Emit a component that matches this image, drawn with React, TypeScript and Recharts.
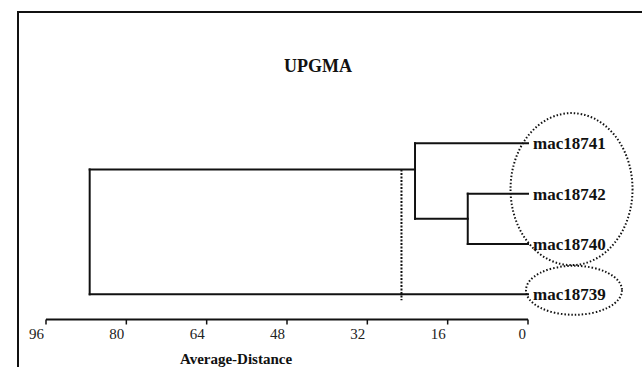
import React from 'react'
import { LineChart, Line, XAxis, YAxis, ReferenceLine, ReferenceDot } from 'recharts'

// leaves, top to bottom
const leafNames = ['mac18741', 'mac18742', 'mac18740', 'mac18739']
const leafRows = [1, 2, 3, 4]

// internal nodes, bottom-up (children are leaf names or earlier node ids)
const nodeIds = ['n1', 'n2', 'n3']
const nodeChildren = [
  ['mac18742', 'mac18740'],
  ['mac18741', 'n1'],
  ['n2', 'mac18739'],
]
const nodeHeights = [12, 22.5, 87.3]
const nodeRows = [2.5, 1.52, 2.76]

// dotted cut line
const cutHeight = 25.2
const cutRows = [1.52, 4.12]

// dotted groupings around the labels
const groupCenters = [
  { x: -8.67, y: 1.91 },
  { x: -9.16, y: 3.92 },
]
const groupRadii = [
  [61, 76],
  [48, 24.5],
]

const xTicks = [0, 16, 32, 48, 64, 80, 96]

type Pt = { x: number; y: number }

function buildSegments(): Pt[][] {
  const pos: Record<string, { h: number; row: number }> = {}
  leafNames.forEach((n, i) => (pos[n] = { h: 0, row: leafRows[i] }))
  const segs: Pt[][] = []
  nodeIds.forEach((id, i) => {
    const h = nodeHeights[i]
    const kids = nodeChildren[i].map((c) => pos[c])
    const rows = kids.map((k) => k.row)
    segs.push([
      { x: h, y: Math.min(...rows) },
      { x: h, y: Math.max(...rows) },
    ])
    kids.forEach((k) => {
      segs.push([
        { x: h, y: k.row },
        { x: k.h, y: k.row },
      ])
    })
    pos[id] = { h, row: nodeRows[i] }
  })
  return segs
}

const segments = buildSegments()

const serif = '"Liberation Serif", "DejaVu Serif", serif'
const ink = '#111'

function Tick({ x, y, payload }: any) {
  return (
    <text x={x - 2} y={y} dy="0.85em" textAnchor="end" fontSize={15} fontFamily={serif} fill="#222">
      {payload.value}
    </text>
  )
}

export default function App() {
  return (
    <div
      style={{
        position: 'absolute',
        left: 0,
        top: 0,
        width: 642,
        height: 367,
        background: '#fff',
        overflow: 'hidden',
      }}
    >
      {/* frame */}
      <div
        style={{
          position: 'absolute',
          left: 17,
          top: 11,
          width: 700,
          height: 400,
          borderTop: `2px solid ${ink}`,
          borderLeft: `2px solid ${ink}`,
        }}
      />
      <div
        style={{
          position: 'absolute',
          left: 318,
          top: 57,
          transform: 'translateX(-50%)',
          fontFamily: serif,
          fontWeight: 700,
          fontSize: 18,
          lineHeight: '18px',
          color: ink,
          whiteSpace: 'nowrap',
        }}
      >
        UPGMA
      </div>
      <div style={{ position: 'absolute', left: 0, top: 0 }}>
        <LineChart width={642} height={367} margin={{ top: 42.6, right: 114, bottom: 17.5, left: 46 }}>
          <XAxis
            type="number"
            dataKey="x"
            domain={[0, 96]}
            reversed
            ticks={xTicks}
            interval={0}
            height={30}
            axisLine={{ stroke: ink, strokeWidth: 2 }}
            tickLine={{ stroke: ink, strokeWidth: 1.5 }}
            tickSize={5}
            tickMargin={2}
            tick={<Tick />}
          />
          <YAxis type="number" dataKey="y" domain={[-1, 4.5]} reversed hide />
          {segments.map((seg, i) => (
            <Line
              key={i}
              data={seg}
              dataKey="y"
              type="linear"
              stroke={ink}
              strokeWidth={2}
              strokeLinecap="square"
              dot={false}
              activeDot={false}
              isAnimationActive={false}
            />
          ))}
          <ReferenceLine
            segment={[
              { x: cutHeight, y: cutRows[0] },
              { x: cutHeight, y: cutRows[1] },
            ]}
            stroke={ink}
            strokeWidth={2}
            strokeDasharray="2 1.5"
            ifOverflow="visible"
          />
          {leafNames.map((n, i) => (
            <ReferenceDot
              key={n}
              x={0}
              y={leafRows[i]}
              r={0}
              stroke="none"
              fill="none"
              ifOverflow="visible"
              label={{
                value: n,
                position: 'right',
                offset: 5,
                fill: ink,
                fontSize: 17,
                fontWeight: 700,
                fontFamily: serif,
              }}
            />
          ))}
          {groupCenters.map((c, i) => (
            <ReferenceDot
              key={'g' + i}
              x={c.x}
              y={c.y}
              ifOverflow="visible"
              shape={(p: any) => (
                <ellipse
                  cx={p.cx}
                  cy={p.cy}
                  rx={groupRadii[i][0]}
                  ry={groupRadii[i][1]}
                  fill="none"
                  stroke={ink}
                  strokeWidth={2}
                  strokeDasharray="1.5 2"
                />
              )}
            />
          ))}
        </LineChart>
      </div>
      <div
        style={{
          position: 'absolute',
          left: 236,
          top: 352,
          transform: 'translateX(-50%)',
          fontFamily: serif,
          fontWeight: 700,
          fontSize: 15,
          lineHeight: '15px',
          color: ink,
          whiteSpace: 'nowrap',
        }}
      >
        Average-Distance
      </div>
    </div>
  )
}
